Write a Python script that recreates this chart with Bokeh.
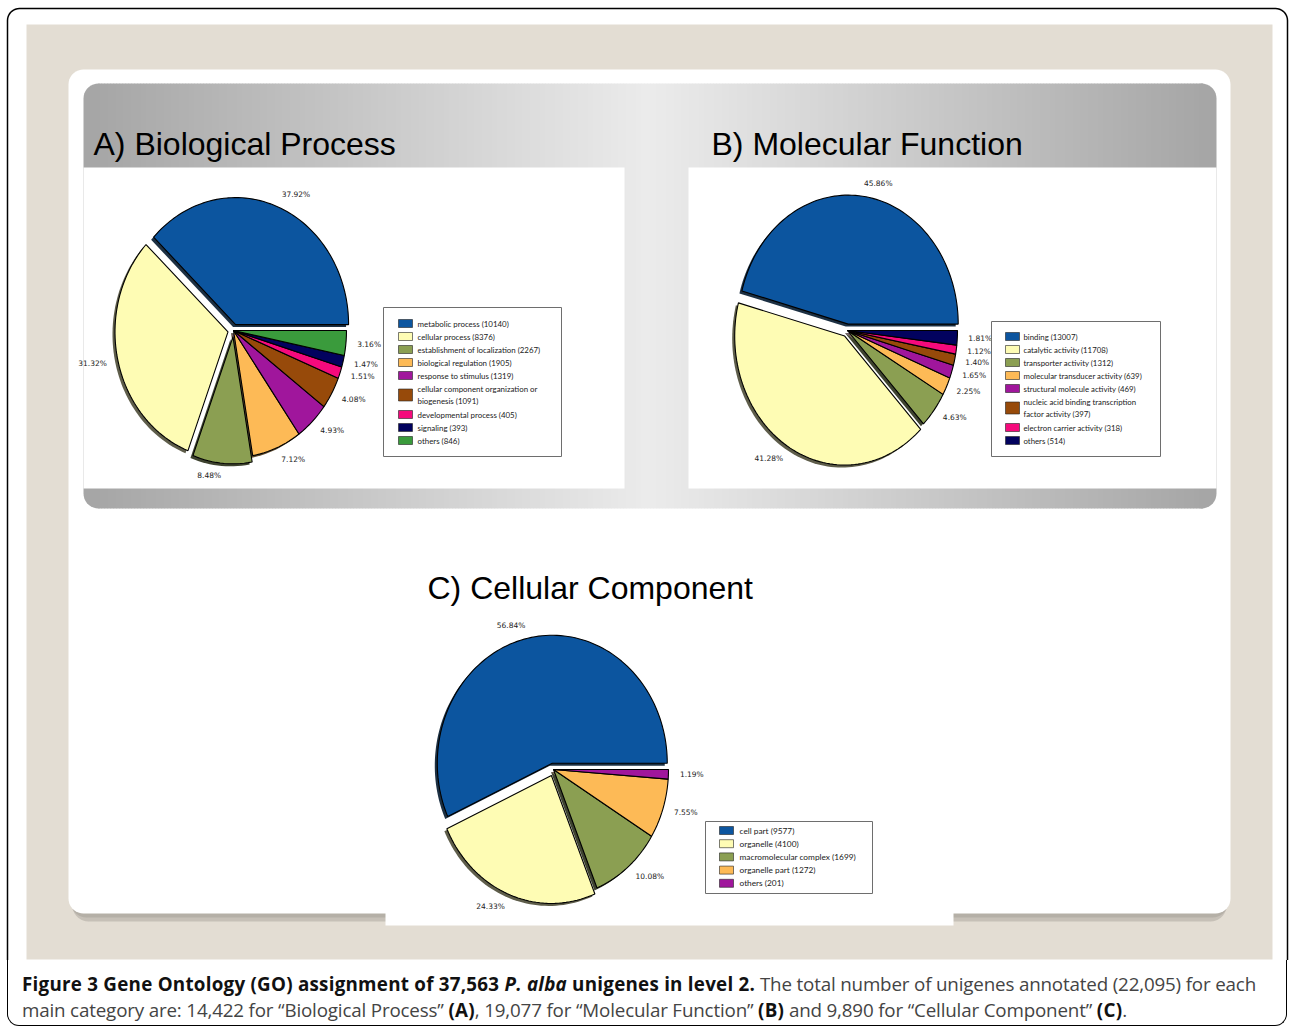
import numpy as np
from bokeh.plotting import figure
from bokeh.models import Range1d, ColumnDataSource, Div
from bokeh.layouts import column
from bokeh.core.properties import value
from bokeh.embed import file_html
from bokeh.resources import INLINE

# ---------------- data ----------------
bp_names = ["metabolic process", "cellular process", "establishment of localization",
            "biological regulation", "response to stimulus",
            "cellular component organization or\nbiogenesis", "developmental process",
            "signaling", "others"]
bp_counts = [10140, 8376, 2267, 1905, 1319, 1091, 405, 393, 846]

mf_names = ["binding", "catalytic activity", "transporter activity",
            "molecular transducer activity", "structural molecule activity",
            "nucleic acid binding transcription\nfactor activity",
            "electron carrier activity", "others"]
mf_counts = [13007, 11708, 1312, 639, 469, 397, 318, 514]

cc_names = ["cell part", "organelle", "macromolecular complex", "organelle part", "others"]
cc_counts = [9577, 4100, 1699, 1272, 201]

panel_titles = ["A) Biological Process", "B) Molecular Function", "C) Cellular Component"]

# ---------------- styles ----------------
BLUE, YELLOW, OLIVE, ORANGE = "#0C559F", "#FEFCB4", "#8B9F52", "#FDBA56"
PURPLE, BROWN, PINK, NAVY, GREEN = "#A0169C", "#974A0A", "#F50A7C", "#02025E", "#3A9B3C"
bp_colors = [BLUE, YELLOW, OLIVE, ORANGE, PURPLE, BROWN, PINK, NAVY, GREEN]
mf_colors = [BLUE, YELLOW, OLIVE, ORANGE, PURPLE, BROWN, PINK, NAVY]
cc_colors = [BLUE, YELLOW, OLIVE, ORANGE, PURPLE]
bp_explode = [0.05, 0.05, 0.05, 0, 0, 0, 0, 0, 0]
mf_explode = [0.05, 0.05, 0, 0, 0, 0, 0, 0]
cc_explode = [0.05, 0.05, 0, 0, 0]

W, H = 1289, 960
p = figure(width=W, height=H, x_range=Range1d(0, W), y_range=Range1d(H, 0),
           output_backend="svg", toolbar_location=None, min_border=0)
p.axis.visible = False
p.grid.visible = False
p.outline_line_color = None
p.background_fill_color = "white"
p.border_fill_color = "white"


def rrect(x0, y0, x1, y1, r=(0, 0, 0, 0), n=10):
    """Rounded rectangle outline (y grows downward); r = (tl, tr, br, bl)."""
    tl, tr, br, bl = r
    xs, ys = [], []
    for (cx, cy, rad, a0, a1) in [(x0 + tl, y0 + tl, tl, np.pi, 1.5 * np.pi),
                                  (x1 - tr, y0 + tr, tr, 1.5 * np.pi, 2 * np.pi),
                                  (x1 - br, y1 - br, br, 0, 0.5 * np.pi),
                                  (x0 + bl, y1 - bl, bl, 0.5 * np.pi, np.pi)]:
        t = np.linspace(a0, a1, n)
        xs += list(cx + rad * np.cos(t))
        ys += list(cy + rad * np.sin(t))
    return xs, ys


def box(x0, y0, x1, y1, r=(0, 0, 0, 0), **kw):
    xs, ys = rrect(x0, y0, x1, y1, r)
    p.patch(xs, ys, **kw)


# page frame, beige slide background and card
box(7, 8, 1287, 1100, (12, 12, 0, 0), fill_color=None, line_color="black", line_width=1.5)
box(26, 24, 1272, 959, fill_color="#E3DDD3", line_color=None)
box(72, 78, 1226, 921, (16,) * 4, fill_color="#8E8A83", fill_alpha=0.35, line_color=None)
box(70, 74, 1228, 917, (16,) * 4, fill_color="#8E8A83", fill_alpha=0.3, line_color=None)
box(68, 69, 1230, 913, (15,) * 4, fill_color="white", line_color=None)

# grey band behind the two upper panels: darker at the ends, light in the middle
gx0, gx1, gy0, gy1 = 83, 1216, 83, 508
mid = 0.5 * (gx0 + gx1)
half = 0.5 * (gx1 - gx0)
edges = np.arange(gx0 + 15, gx1 - 15 + 3, 3)
shade = (0xA5 + (0xEC - 0xA5) * (1 - np.abs(edges[:-1] + 1.5 - mid) / half)).astype(int)
p.quad(left=edges[:-1], right=edges[1:] + 0.6, top=gy0, bottom=gy1,
       fill_color=["#%02x%02x%02x" % (s, s, s) for s in shade], line_color=None)
box(gx0, gy0, gx0 + 16, gy1, (15, 0, 0, 15), fill_color="#a6a6a6", line_color=None)
box(gx1 - 16, gy0, gx1, gy1, (0, 15, 15, 0), fill_color="#a6a6a6", line_color=None)

# white chart areas
box(83, 167, 624, 488, fill_color="white", line_color=None)
box(688, 167, 1216, 488, fill_color="white", line_color=None)
box(385, 600, 953, 925, fill_color="white", line_color=None)

# panel titles
p.text(x=[93, 711, 427], y=[143, 143, 587], text=panel_titles,
       text_font=value("Liberation Sans"), text_font_size="32px",
       text_color="black", text_baseline="alphabetic")


def darker(c, k=0.3):
    r, g, b = int(c[1:3], 16), int(c[3:5], 16), int(c[5:7], 16)
    return "#%02x%02x%02x" % (int(r * k), int(g * k), int(b * k))


def draw_pie(cx, cy, rx, ry, counts, colors, explode):
    vals = np.asarray(counts, dtype=float)
    frac = vals / vals.sum()
    ends = 2 * np.pi * np.cumsum(frac)
    starts = np.concatenate([[0.0], ends[:-1]])
    wx, wy, sx, sy = [], [], [], []
    lx, ly, la, lt = [], [], [], []
    for a0, a1, f, e in zip(starts, ends, frac, explode):
        m = 0.5 * (a0 + a1)
        ox = cx + e * rx * np.cos(m)
        oy = cy - e * ry * np.sin(m)
        t = np.linspace(a0, a1, max(4, int(200 * f)))
        xs = [ox] + list(ox + rx * np.cos(t))
        ys = [oy] + list(oy - ry * np.sin(t))
        wx.append(xs)
        wy.append(ys)
        sx.append([x - 2.5 for x in xs])
        sy.append([y + 2.5 for y in ys])
        lx.append(ox + 1.1 * rx * np.cos(m))
        ly.append(oy - 1.1 * ry * np.sin(m))
        la.append("left" if np.cos(m) > 0 else "right")
        lt.append("%.2f%%" % (100 * f))
    p.patches(sx, sy, fill_color=[darker(c) for c in colors], fill_alpha=0.9, line_color=None)
    p.patches(wx, wy, fill_color=colors, line_color="black", line_width=1.1)
    src = ColumnDataSource(dict(x=lx, y=ly, t=lt, a=la))
    p.text(x="x", y="y", text="t", text_align="a", source=src,
           text_baseline="middle", text_font=value("DejaVu Sans"),
           text_font_size="7.5px", text_color="#222222")


def draw_legend(bx0, by0, bx1, by1, swx, txt_x, first, names, counts, colors, fs, step=13.0):
    box(bx0, by0, bx1, by1, fill_color="white", line_color="#6e6e6e", line_width=1)
    cursor = first - step / 2
    cy, ht, labels = [], [], []
    for nm, ct in zip(names, counts):
        n = nm.count("\n") + 1
        cy.append(cursor + step * n / 2)
        ht.append(8 if n == 1 else 12)
        cursor += step * n
        labels.append("%s (%d)" % (nm, ct))
    cy = np.array(cy)
    ht = np.array(ht)
    p.quad(left=swx, right=swx + 14, top=cy - ht / 2, bottom=cy + ht / 2,
           fill_color=colors, line_color="#222222", line_width=0.6)
    p.text(x=txt_x, y=cy, text=labels, text_baseline="middle", text_align="left",
           text_font=value("Lato"), text_font_size=fs, text_color="#1a1a1a",
           text_line_height=1.15)


draw_pie(233, 330, 113, 127, bp_counts, bp_colors, bp_explode)
draw_legend(383, 307, 561, 456, 398, 417, 323, bp_names, bp_counts, bp_colors, "7.9px")

draw_pie(847, 330, 110, 129, mf_counts, mf_colors, mf_explode)
draw_legend(991, 321, 1160, 456, 1005, 1023, 336, mf_names, mf_counts, mf_colors, "7.8px")

draw_pie(553, 769, 115, 128, cc_counts, cc_colors, cc_explode)
draw_legend(705, 821, 872, 893, 719, 739, 830, cc_names, cc_counts, cc_colors, "8.3px", step=13.2)

# figure caption below the slide
B = '<b style="color:#111111;letter-spacing:0.25px;">'
caption = Div(
    width=W, height=70, margin=0,
    text=(
        '<div style="position:relative;width:1289px;height:70px;">'
        '<div style="position:absolute;left:7px;top:0;width:1280px;height:66px;'
        'border:1.5px solid #000;border-top:none;border-radius:0 0 12px 12px;box-sizing:border-box;"></div>'
        '<div style="position:absolute;left:22px;top:11px;font-family:\'Open Sans\';font-size:18.8px;'
        'line-height:26px;color:#444444;white-space:nowrap;letter-spacing:-0.17px;">'
        + B + 'Figure 3 Gene Ontology (GO) assignment of 37,563 <i>P. alba</i> unigenes in level 2.</b> '
        'The total number of unigenes annotated (22,095) for each<br>'
        'main category are: 14,422 for \u201cBiological Process\u201d ' + B + '(A)</b>, '
        '19,077 for \u201cMolecular Function\u201d ' + B + '(B)</b> and 9,890 for '
        '\u201cCellular Component\u201d ' + B + '(C)</b>.</div></div>'
    ),
)

layout = column(p, caption, spacing=0)
open("out.html", "w").write(file_html(layout, INLINE))
